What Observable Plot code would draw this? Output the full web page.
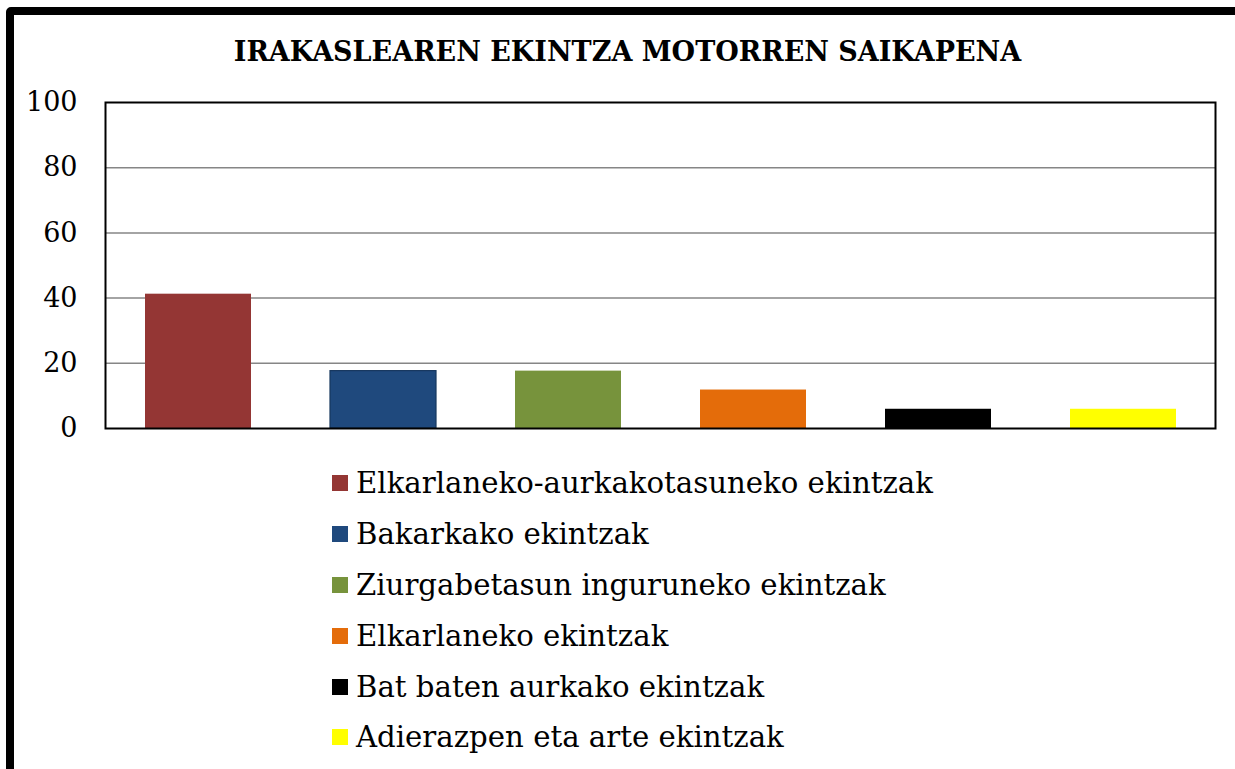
<!DOCTYPE html>
<html>
<head>
<meta charset="utf-8">
<script src="https://cdn.jsdelivr.net/npm/d3@7"></script>
<script src="https://cdn.jsdelivr.net/npm/@observablehq/plot@0.6"></script>
<style>
  html, body { margin: 0; padding: 0; background: #fff; overflow: hidden; width: 1235px; height: 769px; }
  #wrap { position: relative; width: 1235px; height: 769px; overflow: hidden; }
  #border { position: absolute; left: 6px; top: 7px; width: 1400px; height: 1000px; border: 8px solid #000; border-radius: 5px; box-sizing: border-box; }
  #title { position: absolute; left: 0; width: 1255px; top: 38px; line-height: 27px; text-align: center; font-family: "DejaVu Serif", serif; font-weight: bold; font-size: 27px; color: #000; white-space: nowrap; }
  #chart { position: absolute; left: 0; top: 80px; }
  #legend { position: absolute; left: 332px; top: 458px; font-family: "DejaVu Serif", serif; font-size: 29.2px; color: #000; }
  .row { height: 50.8px; display: flex; align-items: center; white-space: nowrap; }
  .sw { width: 16px; height: 16px; margin-right: 8px; box-sizing: border-box; }
</style>
</head>
<body>
<div id="wrap">
  <div id="border"></div>
  <div id="title"></div>
  <div id="chart"></div>
  <div id="legend"></div>
</div>
<script>
const title = "IRAKASLEAREN EKINTZA MOTORREN SAIKAPENA";
const categories = [
  "Elkarlaneko-aurkakotasuneko ekintzak",
  "Bakarkako ekintzak",
  "Ziurgabetasun inguruneko ekintzak",
  "Elkarlaneko ekintzak",
  "Bat baten aurkako ekintzak",
  "Adierazpen eta arte ekintzak"
];
const values = [41.2, 17.6, 17.6, 11.8, 5.9, 5.9];
const colors = ["#943634", "#1F497D", "#77933C", "#E46C0A", "#000000", "#FFFF00"];
const yTicks = [0, 20, 40, 60, 80, 100];
const gridTicks = [20, 40, 60, 80];

const data = categories.map((c, i) => ({category: c, value: values[i]}));

document.getElementById("title").textContent = title;

const chart = Plot.plot({
  width: 1235,
  height: 370,
  marginLeft: 105,
  marginRight: 20,
  marginTop: 22,
  marginBottom: 22,
  style: {fontFamily: "DejaVu Serif", fontSize: "27px", color: "#000", background: "transparent"},
  x: {domain: categories, paddingInner: 0.428, paddingOuter: 0.214, axis: null},
  y: {domain: [0, 100], ticks: yTicks},
  color: {domain: categories, range: colors},
  marks: [
    Plot.ruleY(gridTicks, {stroke: "#868686", strokeWidth: 1.5}),
    Plot.barY(data, {x: "category", y: "value", fill: "category"}),
    Plot.barY(data.filter(d => d.category === categories[1]), {x: "category", y: "value", fill: "category", stroke: "#17375E", strokeWidth: 1.2}),
    Plot.frame({stroke: "#000", strokeWidth: 2}),
    Plot.axisY({ticks: yTicks, tickSize: 0, tickPadding: 28, fontSize: 27, label: null})
  ]
});
document.getElementById("chart").appendChild(chart);

const legend = document.getElementById("legend");
categories.forEach((c, i) => {
  const row = document.createElement("div");
  row.className = "row";
  const sw = document.createElement("div");
  sw.className = "sw";
  sw.style.background = colors[i];
  const t = document.createElement("span");
  t.textContent = c;
  row.appendChild(sw);
  row.appendChild(t);
  legend.appendChild(row);
});
</script>
</body>
</html>
